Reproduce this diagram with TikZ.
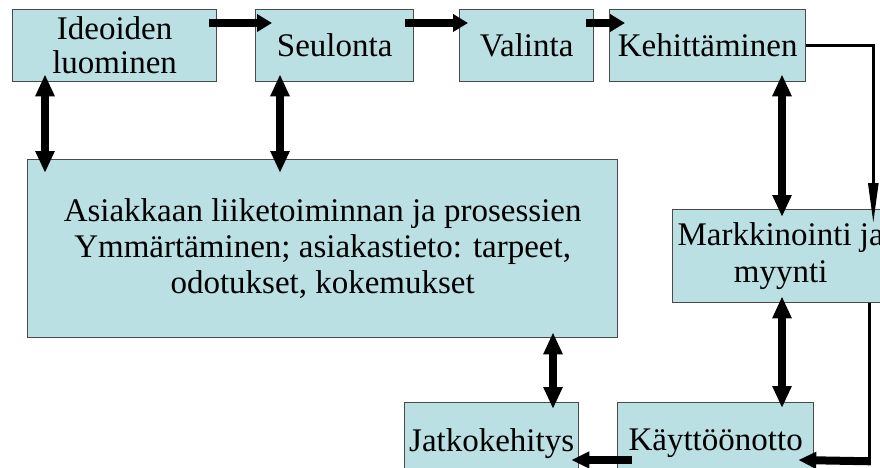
\documentclass[tikz,border=0pt]{standalone}
\usepackage{fontspec}
\setmainfont{Liberation Serif}
\usetikzlibrary{arrows.meta,calc}
\definecolor{boxfill}{HTML}{BBE0E3}
\definecolor{boxline}{HTML}{4A4A4A}
\begin{document}
\begin{tikzpicture}[x=1pt,y=1pt,
  stage/.style={draw=boxline,line width=1.3pt,fill=boxfill,anchor=north west,
    inner sep=0pt,align=center,font=\fontsize{33}{34}\selectfont},
  flow/.style={line width=8pt,-{Triangle[length=15pt,width=17pt]}},
  twoway/.style={line width=8pt,{Triangle[length=22pt,width=18pt]}-{Triangle[length=22pt,width=18pt]}},
  link/.style={line width=2.5pt}]
\useasboundingbox (0,0) rectangle (880,-468);
\clip (0,0) rectangle (880,-468);

% process stages
\node[stage,minimum width=204pt,minimum height=72pt] (ideo) at (12,-9) {Ideoiden\\luominen};
\node[stage,minimum width=158pt,minimum height=72pt] (seul) at (255,-9) {Seulonta};
\node[stage,minimum width=134pt,minimum height=72pt] (vali) at (459,-9) {Valinta};
\node[stage,minimum width=196pt,minimum height=72pt] (kehi) at (609,-9) {Kehittäminen};
\node[stage,minimum width=590pt,minimum height=178pt,font=\fontsize{33}{36}\selectfont] (asia) at (27,-159)
  {Asiakkaan liiketoiminnan ja prosessien\\Ymmärtäminen; asiakastieto: tarpeet,\\odotukset, kokemukset};
\node[stage,minimum width=216pt,minimum height=93pt,font=\fontsize{33}{37}\selectfont] (mark) at (672,-209) {Markkinointi ja\\myynti};
\node[stage,minimum width=174pt,minimum height=82pt] (jatk) at (404,-402) {Jatkokehitys};
\node[stage,minimum width=196pt,minimum height=82pt] (kayt) at (617,-402) {Käyttöönotto};

% main chain along the top
\draw[flow] ($(ideo.north east)+(-8,-14)$) -- ($(seul.north west)+(17,-14)$);
\draw[flow] ($(seul.north east)+(-9,-14)$) -- ($(vali.north west)+(9,-14)$);
\draw[flow] ($(vali.north east)+(-8,-14)$) -- ($(kehi.north west)+(16,-14)$);

% two-way exchanges
\draw[twoway] ($(ideo.south west)+(33,8)$) -- ($(asia.north west)+(18,-14)$);
\draw[twoway] ($(seul.south west)+(25,8)$) -- ($(asia.north west)+(253,-14)$);
\draw[twoway] ($(kehi.south west)+(173,8)$) -- ($(mark.north west)+(110,-8)$);
\draw[twoway] ($(mark.south west)+(110,7)$) -- ($(kayt.north west)+(165,-6)$);
\draw[twoway] ($(asia.south west)+(526,6)$) -- ($(jatk.north west)+(149,-7)$);

% loop down the right side
\coordinate (c1) at ($(mark.north east)+(-16,164)$);
\draw[link,-{Triangle[length=40pt,width=10pt]}] (kehi.east) -- (kehi.east -| c1) -- ($(mark.north east)+(-16,-14)$);
\coordinate (c2) at ($(mark.south east)+(-20,-158)$);
\draw[link,line width=3pt] ($(mark.south east)+(-20,0)$) -- (c2);
\draw[flow,-{Triangle[length=18pt,width=16pt]}] ($(c2)+(1.5,0)$) -- ($(kayt.north east)+(-16,-58)$);
\draw[flow,-{Triangle[length=18pt,width=16pt]}] ($(kayt.north west)+(15,-58)$) -- ($(jatk.north east)+(-8,-58)$);
\end{tikzpicture}
\end{document}
